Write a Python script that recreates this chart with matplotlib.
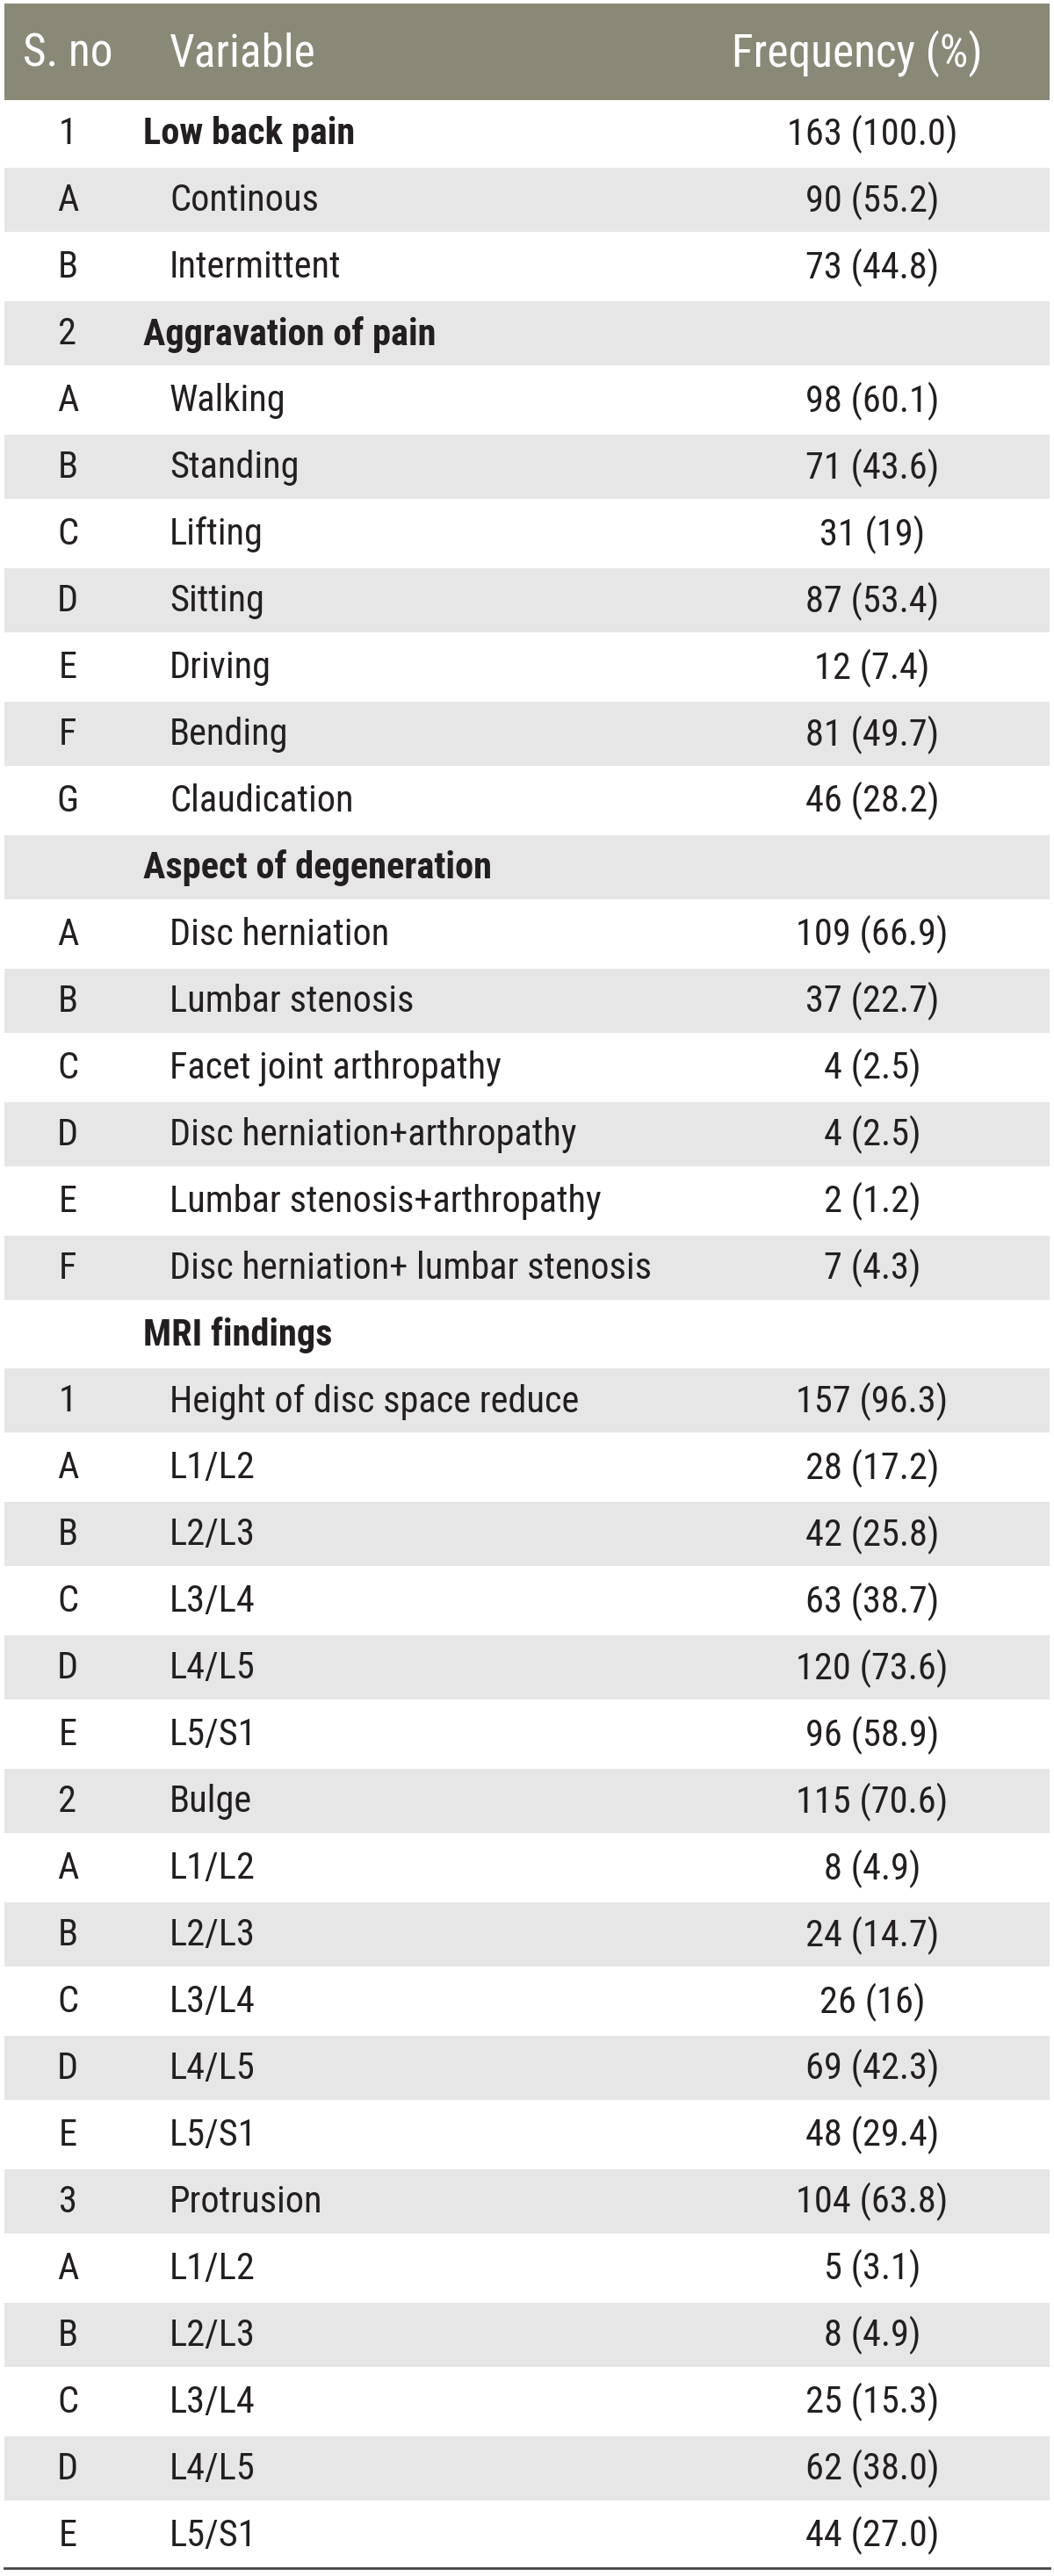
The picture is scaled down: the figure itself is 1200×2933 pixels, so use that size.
import matplotlib
matplotlib.use("Agg")
import matplotlib.pyplot as plt
from matplotlib.patches import Rectangle

plt.rcParams['font.family'] = ['Roboto Condensed', 'Liberation Sans Narrow',
                               'DejaVu Sans Condensed', 'Liberation Sans', 'DejaVu Sans']
plt.rcParams['font.stretch'] = 'condensed'

# Table content
header = ["S. no", "Variable", "Frequency (%)"]

sno = ["1", "A", "B", "2", "A", "B", "C", "D", "E", "F", "G",
       "", "A", "B", "C", "D", "E", "F",
       "", "1", "A", "B", "C", "D", "E",
       "2", "A", "B", "C", "D", "E",
       "3", "A", "B", "C", "D", "E"]

variables = ["Low back pain", "Continous", "Intermittent",
             "Aggravation of pain", "Walking", "Standing", "Lifting", "Sitting",
             "Driving", "Bending", "Claudication",
             "Aspect of degeneration", "Disc herniation", "Lumbar stenosis",
             "Facet joint arthropathy", "Disc herniation+arthropathy",
             "Lumbar stenosis+arthropathy", "Disc herniation+ lumbar stenosis",
             "MRI findings", "Height of disc space reduce",
             "L1/L2", "L2/L3", "L3/L4", "L4/L5", "L5/S1",
             "Bulge", "L1/L2", "L2/L3", "L3/L4", "L4/L5", "L5/S1",
             "Protrusion", "L1/L2", "L2/L3", "L3/L4", "L4/L5", "L5/S1"]

frequency = ["163 (100.0)", "90 (55.2)", "73 (44.8)",
             "", "98 (60.1)", "71 (43.6)", "31 (19)", "87 (53.4)",
             "12 (7.4)", "81 (49.7)", "46 (28.2)",
             "", "109 (66.9)", "37 (22.7)", "4 (2.5)", "4 (2.5)", "2 (1.2)", "7 (4.3)",
             "", "157 (96.3)", "28 (17.2)", "42 (25.8)", "63 (38.7)", "120 (73.6)", "96 (58.9)",
             "115 (70.6)", "8 (4.9)", "24 (14.7)", "26 (16)", "69 (42.3)", "48 (29.4)",
             "104 (63.8)", "5 (3.1)", "8 (4.9)", "25 (15.3)", "62 (38.0)", "44 (27.0)"]

bold_rows = [0, 3, 11, 18]

W, H = 1200, 2933
fig = plt.figure(figsize=(W / 100, H / 100), dpi=100)
ax = fig.add_axes([0, 0, 1, 1])
ax.set_xlim(0, W)
ax.set_ylim(H, 0)
ax.axis('off')

left, right = 5, 1195
head_top, head_bot = 4, 114
row_h = (2924 - head_bot) / len(variables)
txt = '#231f20'
fs = 30.5
hfs = 37

# header
ax.add_patch(Rectangle((left, head_top), right - left, head_bot - head_top,
                       color='#8a8877', lw=0))
hy = (head_top + head_bot) / 2 + 2
ax.text(26, hy, header[0], color='white', fontsize=hfs, va='center', ha='left')
ax.text(193, hy, header[1], color='white', fontsize=hfs, va='center', ha='left')
ax.text(976, hy, header[2], color='white', fontsize=hfs, va='center', ha='center')

for i in range(len(variables)):
    y0 = head_bot + i * row_h
    yc = y0 + row_h / 2 + 1
    if i % 2 == 1:
        ax.add_patch(Rectangle((left, y0 + 1.5), right - left, row_h - 3,
                               color='#e6e6e6', lw=0))
    ax.text(77, yc, sno[i], color=txt, fontsize=fs, va='center', ha='center')
    if i in bold_rows:
        ax.text(163, yc, variables[i], color=txt, fontsize=fs, va='center', ha='left',
                fontweight='bold')
    else:
        ax.text(193, yc, variables[i], color=txt, fontsize=fs, va='center', ha='left')
    ax.text(993, yc, frequency[i], color=txt, fontsize=fs, va='center', ha='center')

bottom = head_bot + len(variables) * row_h
ax.plot([left, right], [bottom, bottom], color='#444444', lw=2)

fig.savefig('out.png', dpi=100, facecolor='white')
